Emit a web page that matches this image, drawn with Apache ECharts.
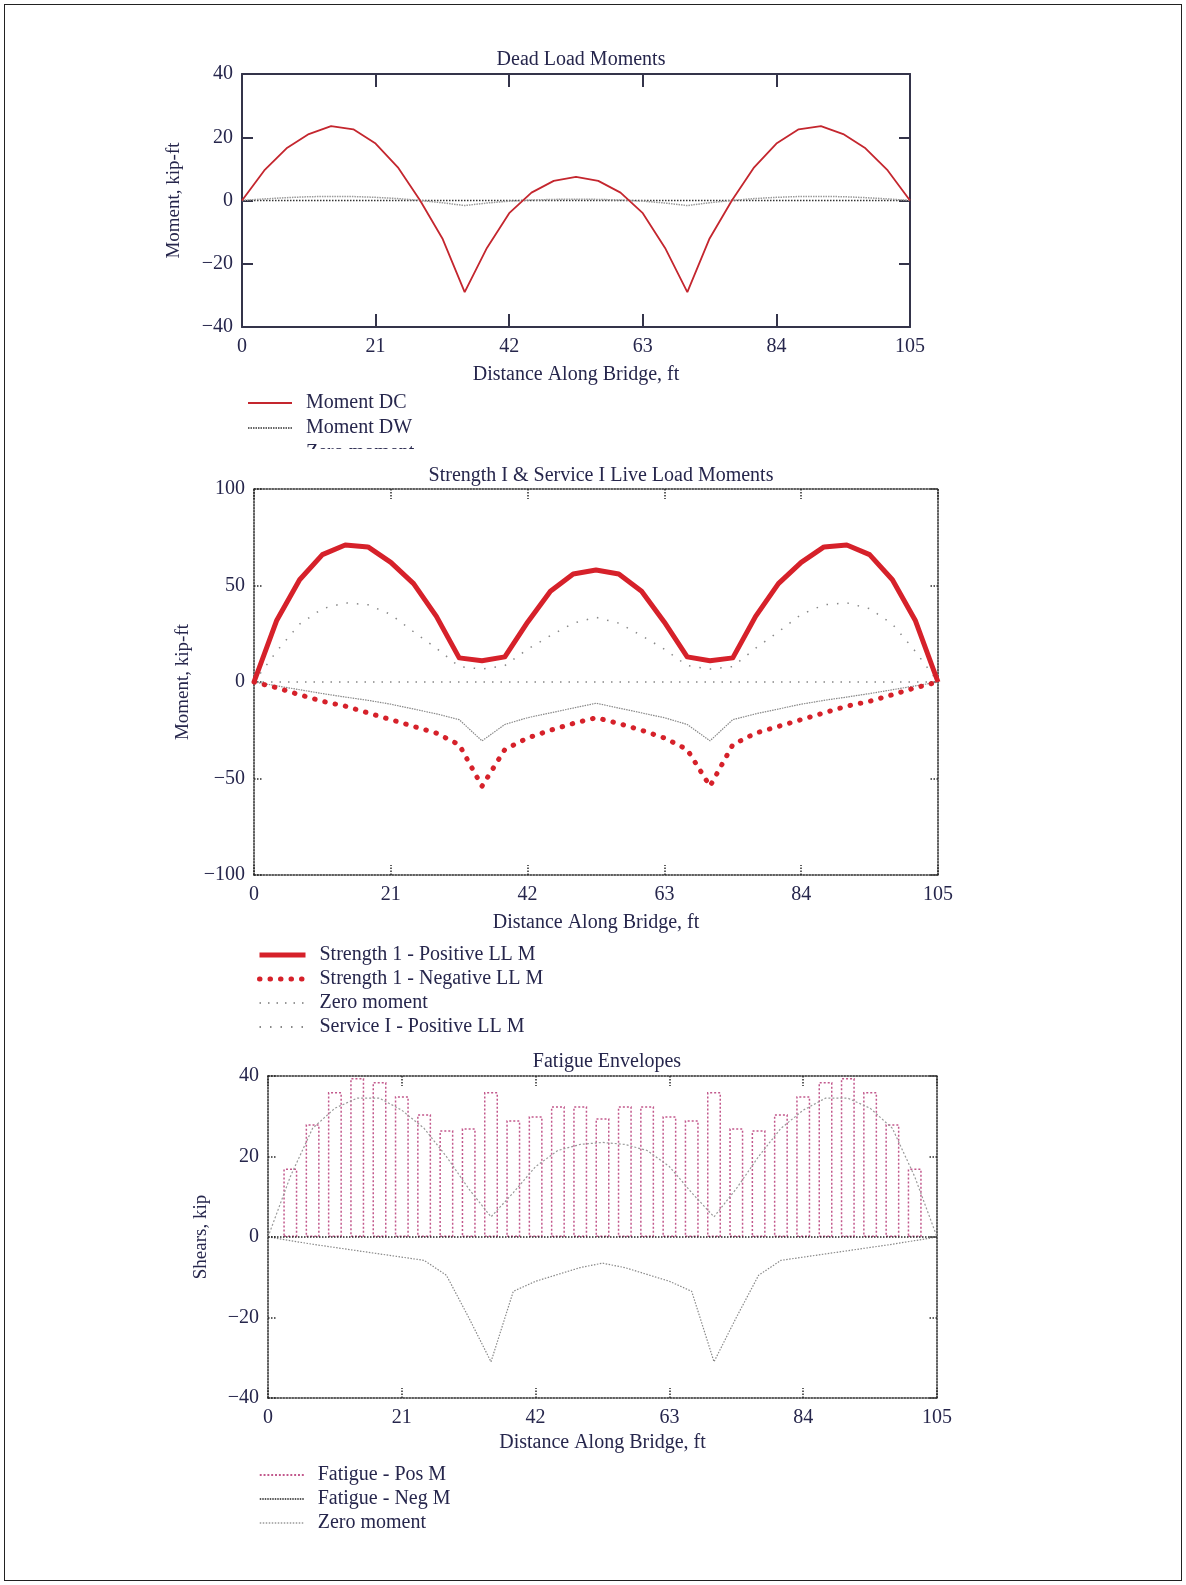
<!DOCTYPE html>
<html>
<head>
<meta charset="utf-8">
<title>Dead load, live load and fatigue envelopes</title>
<script src="https://cdn.jsdelivr.net/npm/echarts@6/dist/echarts.min.js"></script>
<style>
  html, body { margin: 0; padding: 0; background: #fff; }
  #frame { position: absolute; left: 4px; top: 4px; width: 1178px; height: 1577px; border: 1.5px solid #222; box-sizing: border-box; }
  #chart { position: absolute; left: 0; top: 0; width: 1186px; height: 1585px; }
</style>
</head>
<body>
<div id="frame"></div>
<div id="chart"></div>
<script>
// stations along the bridge, ft
const stations = [0, 3.5, 7, 10.5, 14, 17.5, 21, 24.5, 28, 31.5, 35, 38.5, 42, 45.5, 49, 52.5,
  56, 59.5, 63, 66.5, 70, 73.5, 77, 80.5, 84, 87.5, 91, 94.5, 98, 101.5, 105];
const zeroX = [0, 105];
const zeroY = [0, 0];

// Dead load moments, kip-ft
const momentDC = [0, 9.5, 16.5, 21, 23.5, 22.5, 18, 10.5, 0, -12, -29, -15, -4, 2.5, 6.2, 7.5,
  6.2, 2.5, -4, -15, -29, -12, 0, 10.5, 18, 22.5, 23.5, 21, 16.5, 9.5, 0];
const momentDW = [0, 0.5, 0.9, 1.2, 1.3, 1.25, 1.0, 0.6, 0, -0.7, -1.6, -0.8, -0.2, 0.15, 0.35, 0.4,
  0.35, 0.15, -0.2, -0.8, -1.6, -0.7, 0, 0.6, 1.0, 1.25, 1.3, 1.2, 0.9, 0.5, 0];

// Live load moments, kip-ft
const strPos = [0, 32, 53, 66, 71, 70, 62, 51, 34, 12.5, 11, 13, 31, 47, 56, 58,
  56, 47, 31, 13, 11, 12.5, 34, 51, 62, 70, 71, 66, 53, 32, 0];
const strNeg = [0, -3, -6.6, -10, -12.5, -16, -19.5, -23, -26.5, -32.5, -54, -35, -29, -25, -21.5, -18.5,
  -21.5, -25, -29, -35, -54, -32.5, -26.5, -23, -19.5, -16, -12.5, -10, -6.6, -3, 0];
const servPos = [0, 16, 30, 38, 41, 40, 35, 26, 17.5, 8, 6.7, 8.5, 17, 24, 30.5, 33.5,
  30.5, 24, 17, 8.5, 6.7, 8, 17.5, 26, 35, 40, 41, 38, 30, 16, 0];
const servNeg = [0, -2, -4, -6, -7.8, -9.5, -11.5, -14, -16.5, -19.5, -30.5, -22, -18.5, -16, -13.5, -11,
  -13.5, -16, -18.5, -22, -30.5, -19.5, -16.5, -14, -11.5, -9.5, -7.8, -6, -4, -2, 0];

// Fatigue, kip
const barStations = stations.slice(1, -1);
const fatigueBars = [17, 28, 36, 39.5, 38.5, 35, 30.5, 26.5, 27, 36, 29, 30, 32.5, 32.5, 29.5,
  32.5, 32.5, 30, 29, 36, 27, 26.5, 30.5, 35, 38.5, 39.5, 36, 28, 17];
const fatiguePos = [0, 15, 27, 32, 34.5, 34.5, 31.5, 27, 20, 12, 5, 11, 17.5, 21.5, 23, 23.5,
  23, 21.5, 17.5, 11, 5, 12, 20, 27, 31.5, 34.5, 34.5, 32, 27, 15, 0];
const fatigueNeg = [0, -0.9, -1.8, -2.6, -3.4, -4.2, -5, -5.8, -9.5, -20, -31, -13.5, -11, -9.3, -7.6, -6.5,
  -7.6, -9.3, -11, -13.5, -31, -20, -9.5, -5.8, -5, -4.2, -3.4, -2.6, -1.8, -0.9, 0];

const serif = '"Liberation Serif", "Times New Roman", serif';
const ink = '#26264c';
const red = '#d6212a';
const pink = '#c2588c';

const pair = (xs, ys) => xs.map((x, i) => [x, ys[i]]);
const minus = v => (v < 0 ? '\u2212' + Math.abs(v) : String(v));

function frameStyle(solid) {
  return solid ? { color: '#34344a', width: 2 } : { color: '#2a2a2a', width: 1.5, type: [1.5, 1.5] };
}

function xAxes(gi, solid, nameGap) {
  const line = frameStyle(solid);
  const tick = { show: true, inside: true, length: solid ? 13 : 10, lineStyle: line };
  return [
    {
      type: 'value', gridIndex: gi, position: 'bottom', min: 0, max: 105, interval: 21,
      name: 'Distance Along Bridge, ft', nameLocation: 'middle', nameGap: nameGap,
      nameTextStyle: { fontFamily: serif, fontSize: 20, color: ink },
      axisLine: { show: true, onZero: false, lineStyle: line }, axisTick: tick,
      axisLabel: { margin: 10, fontFamily: serif, fontSize: 20, color: ink },
      splitLine: { show: false }
    },
    {
      type: 'value', gridIndex: gi, position: 'top', min: 0, max: 105, interval: 21,
      axisLine: { show: true, onZero: false, lineStyle: line }, axisTick: tick,
      axisLabel: { show: false }, splitLine: { show: false }
    }
  ];
}

function yAxes(gi, solid, lim, step, name, nameGap) {
  const line = frameStyle(solid);
  const tick = { show: true, inside: true, length: solid ? 11 : 9, lineStyle: line };
  return [
    {
      type: 'value', gridIndex: gi, position: 'left', min: -lim, max: lim, interval: step,
      name: name, nameLocation: 'middle', nameGap: nameGap,
      nameTextStyle: { fontFamily: serif, fontSize: 19, color: ink },
      axisLine: { show: true, onZero: false, lineStyle: line }, axisTick: tick,
      axisLabel: { margin: 9, fontFamily: serif, fontSize: 20, color: ink, formatter: minus },
      splitLine: { show: false }
    },
    {
      type: 'value', gridIndex: gi, position: 'right', min: -lim, max: lim, interval: step,
      axisLine: { show: true, onZero: false, lineStyle: line }, axisTick: tick,
      axisLabel: { show: false }, splitLine: { show: false }
    }
  ];
}

function line(gi, name, xs, ys, style, z) {
  return {
    type: 'line', name: name, xAxisIndex: gi * 2, yAxisIndex: gi * 2,
    data: pair(xs, ys), symbol: 'none', lineStyle: style, z: z || 2, silent: true
  };
}

let dots = 'path://';
for (let i = 0; i < 12; i++) dots += 'M' + (i * 4) + ',0h2v2h-2z';

const legendText = { fontFamily: serif, fontSize: 20, color: ink, padding: [0, 0, 0, 9] };
const noSymbol = { color: 'rgba(0,0,0,0)', borderColor: 'rgba(0,0,0,0)', borderWidth: 0, opacity: 0 };
const titleText = { fontFamily: serif, fontSize: 20, fontWeight: 'normal', color: ink };

const option = {
  animation: false,
  title: [
    { text: 'Dead Load Moments', left: 576, top: 45, textAlign: 'center', textStyle: titleText },
    { text: 'Strength I & Service I Live Load Moments', left: 596, top: 461, textAlign: 'center', textStyle: titleText },
    { text: 'Fatigue Envelopes', left: 602, top: 1047, textAlign: 'center', textStyle: titleText }
  ],
  grid: [
    { left: 242, top: 74, width: 668, height: 253 },
    { left: 254, top: 489, width: 684, height: 386 },
    { left: 268, top: 1076, width: 669, height: 322 }
  ],
  xAxis: [].concat(xAxes(0, true, 38), xAxes(1, false, 38), xAxes(2, false, 35)),
  yAxis: [].concat(
    yAxes(0, true, 40, 20, 'Moment, kip-ft', 58),
    yAxes(1, false, 100, 50, 'Moment, kip-ft', 53),
    yAxes(2, false, 40, 20, 'Shears, kip', 57)
  ),
  legend: [
    { left: 242, top: 388, orient: 'vertical', itemWidth: 44, itemHeight: 14, itemGap: 5,
      selectedMode: false, textStyle: legendText, itemStyle: noSymbol,
      data: [
        { name: 'Moment DC' },
        { name: 'Moment DW', lineStyle: { color: '#333', width: 1.5, type: [1.5, 1] } },
        { name: 'Zero moment', lineStyle: { color: '#aaa', width: 1.5, type: [1.5, 1.5] } }
      ] },
    { left: 252, top: 940, orient: 'vertical', itemWidth: 46, itemHeight: 14, itemGap: 4,
      selectedMode: false, textStyle: legendText, itemStyle: noSymbol,
      data: [
        { name: 'Strength 1 - Positive LL M', lineStyle: { width: 5 } },
        { name: 'Strength 1 - Negative LL M', lineStyle: { width: 5 } },
        { name: 'Zero moment', lineStyle: { color: '#777', width: 1.5, type: [1.5, 7] } },
        { name: 'Service I - Positive LL M' }
      ] },
    { left: 254, top: 1460, orient: 'vertical', itemWidth: 44, itemHeight: 14, itemGap: 4,
      selectedMode: false, textStyle: legendText, itemStyle: noSymbol,
      data: [
        { name: 'Fatigue - Pos M', icon: dots, itemStyle: { color: pink, borderWidth: 0, opacity: 1 } },
        { name: 'Fatigue - Neg M', lineStyle: { color: '#222', width: 1.5, type: [1.5, 1] } },
        { name: 'Zero moment', lineStyle: { color: '#999', width: 1.5, type: [1.5, 1.5] } }
      ] }
  ],
  graphic: [
    // the third dead-load legend entry is cut off in the source figure
    { type: 'rect', left: 230, top: 449, shape: { width: 420, height: 11 }, style: { fill: '#fff' }, z: 100 }
  ],
  series: [
    // Dead load
    line(0, 'Zero moment', zeroX, zeroY, { color: '#333', width: 1.5, type: [1.5, 1.5] }),
    line(0, 'Moment DW', stations, momentDW, { color: '#999', width: 1.5, type: [1.5, 1] }),
    line(0, 'Moment DC', stations, momentDC, { color: '#c4262e', width: 1.8 }, 3),
    // Live load
    line(1, 'Zero moment 2', zeroX, zeroY, { color: '#888', width: 1.5, type: [1.5, 7] }),
    line(1, 'Service I - Negative LL M', stations, servNeg, { color: '#888', width: 1.2, type: [1.5, 1] }),
    line(1, 'Service I - Positive LL M', stations, servPos, { color: '#888', width: 1.5, type: [1.5, 9] }),
    line(1, 'Strength 1 - Negative LL M', stations, strNeg, { color: red, width: 5, type: [0.5, 10], cap: 'round' }, 3),
    line(1, 'Strength 1 - Positive LL M', stations, strPos, { color: red, width: 5, join: 'round' }, 3),
    // Fatigue
    {
      type: 'bar', name: 'Fatigue - Pos M', xAxisIndex: 4, yAxisIndex: 4,
      data: pair(barStations, fatigueBars), barWidth: 14, silent: true,
      itemStyle: { color: 'rgba(0,0,0,0)', borderColor: pink, borderWidth: 1.5, borderType: [2, 2] }
    },
    line(2, 'Fatigue envelope', stations, fatiguePos, { color: '#999', width: 1.2, type: [2, 2] }, 3),
    line(2, 'Fatigue - Neg M', stations, fatigueNeg, { color: '#888', width: 1.2, type: [1.5, 1.5] }, 3),
    line(2, 'Zero moment 3', zeroX, zeroY, { color: '#222', width: 1.5, type: [1.5, 1.5] }, 3)
  ]
};

const chart = echarts.init(document.getElementById('chart'));
chart.setOption(option);
window.addEventListener('resize', () => chart.resize());
</script>
</body>
</html>
